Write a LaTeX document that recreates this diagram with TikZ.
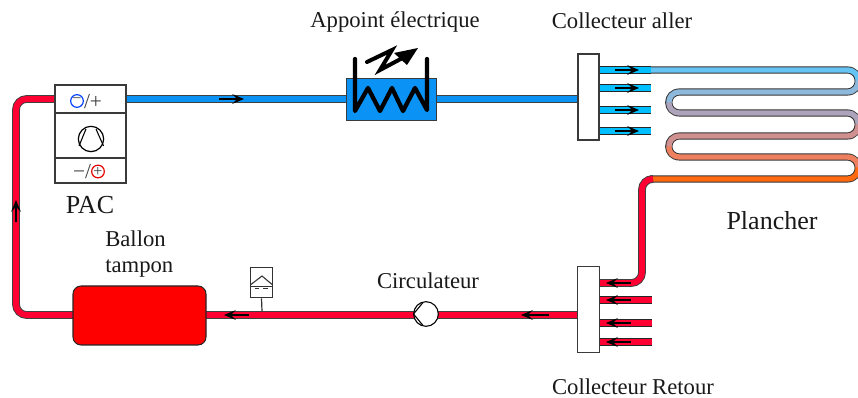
\documentclass[tikz,border=0pt]{standalone}
\usepackage{fontspec}
\setmainfont{Liberation Serif}
\usetikzlibrary{arrows.meta}
\definecolor{pred}{HTML}{FF0033}
\definecolor{pblue}{HTML}{0A92F5}
\definecolor{pcyan}{HTML}{00BFFF}
\definecolor{edge}{HTML}{3A3A3A}
\definecolor{ca}{HTML}{66C4F5}
\definecolor{cb}{HTML}{8DB9DC}
\definecolor{cc}{HTML}{ADA3BA}
\definecolor{cd}{HTML}{D09090}
\definecolor{ce}{HTML}{EE8060}
\definecolor{cf}{HTML}{FF6A10}
\tikzset{
  x=0.75pt,y=-0.75pt,
  outer/.style={line width=5.8pt,draw=black!75,line cap=butt},
  inner/.style={line width=4.4pt,line cap=butt},
  flow/.style={line width=0.8pt,black,-{Stealth[length=9pt,width=7.5pt,inset=4pt]}},
  box/.style={draw=edge,line width=0.9pt,fill=white,inner sep=0pt,minimum width=0pt},
  lab/.style={font=\fontsize{17}{19}\selectfont,text=black!90,inner sep=0pt},
  sym/.style={draw=#1,line width=0.9pt,fill=none,circle,minimum size=9.5pt,inner sep=0pt}
}
\newcommand{\pipe}[2]{\draw[outer,rounded corners=8pt] #2; \draw[inner,draw=#1,rounded corners=8pt] #2;}
\begin{document}
\begin{tikzpicture}
\useasboundingbox (0,0) rectangle (858,398);
\clip (0,0) rectangle (858,398);
% anchors
\coordinate (pacR) at (126,99);
\coordinate (pacL) at (55,99);
\coordinate (c1) at (16,99);
\coordinate (c2) at (16,315);
\coordinate (balL) at (73,315);
\coordinate (balR) at (206,315);
\coordinate (colRL) at (577,315);
\coordinate (colAL) at (578,99);
% long pipes
\pipe{pblue}{(pacR) -- (colAL)}
\pipe{pred}{(pacL) -- (c1) -- (c2) -- (balL)}
\pipe{pred}{(balR) -- (colRL)}
% collector branches
\foreach \n/\y in {a/70,b/88,c/110,d/131}{
  \coordinate (s\n) at (599,\y); \coordinate (e\n) at (651,\y);
  \draw[black!85,line width=5.4pt] (s\n) -- (e\n);
  \draw[pcyan,line width=4pt] (s\n) -- (e\n);
}
\foreach \n/\y in {b/300,c/323,d/342}{
  \coordinate (rs\n) at (599,\y); \coordinate (re\n) at (652,\y);
  \draw[black!85,line width=5.4pt] (rs\n) -- (re\n);
  \draw[pred,line width=4pt] (rs\n) -- (re\n);
}
% serpentine: black underlay
\draw[black!80,line width=5.4pt]
  (651,70) -- (847,70) .. controls (862,70) and (862,92) .. (847,92)
  -- (680,92) .. controls (665,92) and (665,113) .. (680,113)
  -- (847,113) .. controls (862,113) and (862,136) .. (847,136)
  -- (680,136) .. controls (665,136) and (665,157) .. (680,157)
  -- (847,157) .. controls (862,157) and (862,179) .. (847,179)
  -- (650,179);
\tikzset{inner/.append style={line width=4pt}}
\draw[ca,inner] (651,70) -- (847,70) .. controls (854.5,70) and (858.2,75) .. (858.3,81);
\draw[cb,inner] (858.3,80.5) .. controls (858.2,87) and (854.5,92) .. (847,92) -- (680,92) .. controls (672.5,92) and (668.8,97) .. (668.8,103);
\draw[cc,inner] (668.8,102.5) .. controls (668.8,108) and (672.5,113) .. (680,113) -- (847,113) .. controls (854.5,113) and (858.2,118) .. (858.3,125);
\draw[cd,inner] (858.3,124.5) .. controls (858.2,131) and (854.5,136) .. (847,136) -- (680,136) .. controls (672.5,136) and (668.8,141) .. (668.8,147);
\draw[ce,inner] (668.8,146.5) .. controls (668.8,152) and (672.5,157) .. (680,157) -- (847,157) .. controls (854.5,157) and (858.2,162) .. (858.3,168);
\draw[cf,inner] (858.3,167.5) .. controls (858.2,174) and (854.5,179) .. (847,179) -- (651,179);
% return from floor
\tikzset{inner/.append style={line width=4.4pt}}
\pipe{pred}{(652,179) -- (642,179) -- (642,283) -- (599,283)}
% heat pump
\node[box,minimum width=53.25pt,minimum height=73.5pt] (pac) at (90.5,134) {};
\draw[box] (pac.west |- 0,113) coordinate (pd1) -- (pac.east |- 0,113);
\draw[box] (pac.west |- 0,158) coordinate (pd2) -- (pac.east |- 0,158);
\node[sym=blue!75!cyan] (minus) at (77,101) {};
\node[font=\fontsize{12}{12}\selectfont,inner sep=0pt,text=black!75] at (minus) {−};
\node[font=\fontsize{16}{16}\selectfont,inner sep=0pt,text=black!75] (slp) at (93,102) {/+};
\node[sym=black,minimum size=19pt] (comp) at (91,139) {};
\draw[black,line width=0.8pt,line join=round] (79,146) -- (86,129) (96,129) -- (103.5,146);
\node[font=\fontsize{16}{16}\selectfont,inner sep=0pt,text=black!75] (sln) at (82,172) {−/};
\node[sym=red!90!black] (plus) at (98,171.5) {};
\node[font=\fontsize{12}{12}\selectfont,inner sep=0pt,text=black!75] at (plus) {+};
% heater
\node[draw=edge,fill=pblue,line width=0.7pt,minimum width=67.5pt,minimum height=31pt,inner sep=0pt] (heat) at (391,99.5) {};
\draw[black,line width=3.2pt,line join=round,line cap=round] (355,59) -- (355,111) -- (368,88) -- (380,111) -- (392,88) -- (403,111) -- (415,88) -- (427,110) -- (427,59);
\draw[black,line width=3pt,line join=miter,line cap=round] (367,62) -- (392,50) -- (380,70) -- (410,54);
\fill[black] (418,48) -- (394,53) -- (407,65) -- cycle;
% collectors
\node[box,minimum width=15.75pt,minimum height=64.5pt] (aller) at (588.5,97) {};
\node[box,minimum width=16.5pt,minimum height=64pt] (retour) at (588.5,309.5) {};
% flow arrows
\foreach \y in {70,88,110,131}{\draw[flow] (615,\y) -- (639,\y);}
\foreach \y in {283,300,323,342}{\draw[flow] (631,\y) -- (606,\y);}
\draw[flow] (219,99) -- (244,99);
\draw[flow] (549,315) -- (521,315);
\draw[flow] (249,315) -- (224,315);
\draw[flow] (16,222) -- (16,200);
% tank
\node[draw=black!85,fill=red,line width=0.8pt,rounded corners=6pt,minimum width=99.75pt,minimum height=44.25pt,inner sep=0pt] (tank) at (139.5,315.5) {};
% circulator
\node[draw=black,fill=white,circle,line width=0.8pt,minimum size=18.5pt,inner sep=0pt] (circ) at (426,314) {};
\draw[black,line width=0.8pt] (423,302.5) -- (413.5,314) -- (423,325.5);
% expansion vessel
\node[draw=black!80,fill=white,line width=0.8pt,minimum width=16pt,minimum height=23pt,inner sep=0pt] (vase) at (261.5,282.5) {};
\coordinate (st) at (262,311);
\draw[black!80,line width=0.9pt] (vase.south) -- (st);
\draw[black!80,line width=0.8pt] (vase.west |- 0,285) -- (262,276) -- (vase.east |- 0,285);
\draw[black!80,line width=0.7pt] (vase.west |- 0,286) -- (vase.east |- 0,286);
\draw[black!80,line width=0.7pt] (255,288.5) -- (259,288.5) (263,288.5) -- (268,288.5);
% labels
\node[lab] (t1) at (395,22) {Appoint électrique};
\node[lab] (t2) at (622,21) {Collecteur aller};
\node[lab,font=\fontsize{19.5}{21}\selectfont] (t3) at (90,205) {PAC};
\node[lab,anchor=west] (t4) at (105,239) {Ballon};
\node[lab,anchor=west] (t5) at (105,269) {tampon};
\node[lab,font=\fontsize{19.5}{21}\selectfont] (t6) at (772,221) {Plancher};
\node[lab] (t7) at (428,281) {Circulateur};
\node[lab] (t8) at (633,387) {Collecteur Retour};
\end{tikzpicture}
\end{document}
